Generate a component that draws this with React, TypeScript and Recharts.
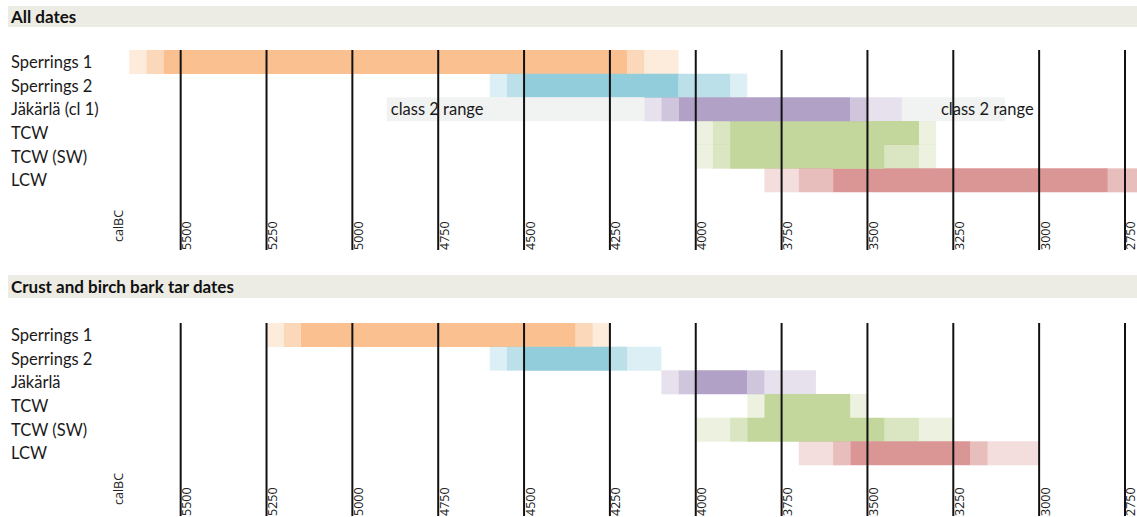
import { BarChart, Bar, XAxis, YAxis, Cell, ReferenceLine, ReferenceDot } from 'recharts';

// Rows and segment boundaries (calBC, read left to right) for the two panels.
// Levels: L = light, M = medium, F = full colour, G = grey "class 2" range
const allDatesRows = ['Sperrings 1', 'Sperrings 2', 'Jäkärlä (cl 1)', 'TCW', 'TCW (SW)', 'LCW'];
const allDatesBounds = [
  [5650, 5600, 5550, 4200, 4150, 4050],
  [4600, 4550, 4500, 4050, 3900, 3850],
  [4900, 4150, 4100, 4050, 3550, 3500, 3400, 3100],
  [4000, 3950, 3900, 3350, 3300],
  [4000, 3950, 3900, 3450, 3350, 3300],
  [3800, 3700, 3600, 2800, 2700],
];
const allDatesLevels = [
  ['L', 'M', 'F', 'M', 'L'],
  ['L', 'M', 'F', 'M', 'L'],
  ['G', 'L', 'M', 'F', 'M', 'L', 'G'],
  ['L', 'M', 'F', 'L'],
  ['L', 'M', 'F', 'M', 'L'],
  ['L', 'M', 'F', 'M'],
];

const crustRows = ['Sperrings 1', 'Sperrings 2', 'Jäkärlä', 'TCW', 'TCW (SW)', 'LCW'];
const crustBounds = [
  [5250, 5200, 5150, 4350, 4300, 4250],
  [4600, 4550, 4500, 4250, 4200, 4100],
  [4100, 4050, 4000, 3850, 3800, 3650],
  [3850, 3800, 3550, 3500],
  [4000, 3900, 3850, 3450, 3350, 3250],
  [3700, 3600, 3550, 3200, 3150, 3000],
];
const crustLevels = [
  ['L', 'M', 'F', 'M', 'L'],
  ['L', 'M', 'F', 'M', 'L'],
  ['L', 'M', 'F', 'M', 'L'],
  ['L', 'F', 'L'],
  ['L', 'M', 'F', 'M', 'L'],
  ['L', 'M', 'F', 'M', 'L'],
];

const rowColors = ['#FAC090', '#92CDDC', '#B2A1C7', '#C3D69B', '#C3D69B', '#DA9694'];
const levelOpacity: Record<string, number> = { L: 0.32, M: 0.62, F: 1, G: 1 };
const classTwoGrey = '#F1F2F2';

const tickYears = [5700, 5500, 5250, 5000, 4750, 4500, 4250, 4000, 3750, 3500, 3250, 3000, 2750];
const tickLabels = ['calBC', '5500', '5250', '5000', '4750', '4500', '4250', '4000', '3750', '3500', '3250', '3000', '2750'];

const classTwoYears = [4888, 3286];
const classTwoText = 'class 2 range';

const MAX_SEG = 7;
const segKeys = Array.from({ length: MAX_SEG }, (_, k) => 's' + (k + 1));

function buildRows(names: string[], bounds: number[][], levels: string[][]) {
  return names.map((name, i) => {
    const b = [...bounds[i]].reverse();
    const lv = [...levels[i]].reverse();
    const row: any = { name, s0: b[0], levels: lv, color: rowColors[i] };
    segKeys.forEach((key, k) => {
      row[key] = k < lv.length ? b[k + 1] - b[k] : 0;
    });
    return row;
  });
}

const FONT = 'Lato, sans-serif';
const TICK_FONT = "'Open Sans', sans-serif";

const RowTick = (props: any) => {
  const { y, payload } = props;
  return (
    <text x={11} y={y} dominantBaseline="central" fontFamily={FONT} fontSize={16.5} fill="#1a1a1a">
      {payload.value}
    </text>
  );
};

const makeYearTick = (lineLen: number, calEnd: number) => (props: any) => {
  const { x, y, payload } = props;
  const i = tickYears.indexOf(payload.value);
  const label = tickLabels[i];
  if (i === 0) {
    const tx = x + 11;
    const ty = y + calEnd;
    return (
      <text x={tx} y={ty} transform={`rotate(-90 ${tx} ${ty})`} fontFamily={TICK_FONT} fontSize={12.5} fill="#222">
        {label}
      </text>
    );
  }
  const tx = x + 10.5;
  const ty = y + lineLen;
  return (
    <g>
      <line x1={x} x2={x} y1={y} y2={y + lineLen} stroke="#111" strokeWidth={2} />
      <text x={tx} y={ty} transform={`rotate(-90 ${tx} ${ty})`} fontFamily={TICK_FONT} fontSize={12.5} fill="#222">
        {label}
      </text>
    </g>
  );
};

function Panel({ rows, lineLen, calEnd, notes }: { rows: any[]; lineLen: number; calEnd: number; notes?: boolean }) {
  return (
    <BarChart
      width={1137}
      height={202}
      data={rows}
      layout="vertical"
      margin={{ top: 0, right: 0, bottom: 0, left: 0 }}
      barCategoryGap={0}
      barGap={0}
    >
      <XAxis
        type="number"
        domain={[2715, 5700]}
        reversed
        allowDataOverflow
        ticks={tickYears}
        interval={0}
        axisLine={false}
        tickLine={false}
        tickSize={0}
        tickMargin={0}
        height={60}
        tick={makeYearTick(lineLen, calEnd)}
      />
      <YAxis type="category" dataKey="name" width={112} axisLine={false} tickLine={false} tick={<RowTick />} />
      <Bar dataKey="s0" stackId="a" fill="transparent" isAnimationActive={false} />
      {segKeys.map((key, k) => (
        <Bar key={key} dataKey={key} stackId="a" isAnimationActive={false}>
          {rows.map((r, i) => {
            const lv = r.levels[k];
            return (
              <Cell
                key={i}
                fill={lv === 'G' ? classTwoGrey : r.color}
                fillOpacity={lv ? levelOpacity[lv] : 0}
              />
            );
          })}
        </Bar>
      ))}
      {tickYears.slice(1).map((v) => (
        <ReferenceLine key={v} x={v} stroke="#111" strokeWidth={2} />
      ))}
      {notes &&
        classTwoYears.map((v) => (
          <ReferenceDot
            key={v}
            x={v}
            y={rows[2].name}
            r={0}
            fill="none"
            stroke="none"
            label={{ value: classTwoText, position: 'right', offset: 0, fill: '#1a1a1a', fontSize: 16.5, fontFamily: FONT }}
          />
        ))}
    </BarChart>
  );
}

const headerStyle: React.CSSProperties = {
  position: 'absolute',
  left: 8,
  width: 1129,
  background: '#ECECE4',
  fontFamily: FONT,
  fontWeight: 'bold',
  fontSize: 17,
  paddingLeft: 3,
  boxSizing: 'border-box',
  color: '#111',
};

export default function App() {
  const allRows = buildRows(allDatesRows, allDatesBounds, allDatesLevels);
  const crust = buildRows(crustRows, crustBounds, crustLevels);
  return (
    <div style={{ position: 'absolute', left: 0, top: 0, width: 1137, height: 517, overflow: 'hidden', background: '#fff' }}>
      <div style={{ ...headerStyle, top: 6, height: 21, lineHeight: '21px' }}>All dates</div>
      <div style={{ position: 'absolute', left: 0, top: 50 }}>
        <Panel rows={allRows} lineLen={58} calEnd={50} notes />
      </div>
      <div style={{ ...headerStyle, top: 275, height: 23, lineHeight: '23px' }}>Crust and birch bark tar dates</div>
      <div style={{ position: 'absolute', left: 0, top: 323 }}>
        <Panel rows={crust} lineLen={51} calEnd={40} />
      </div>
    </div>
  );
}
